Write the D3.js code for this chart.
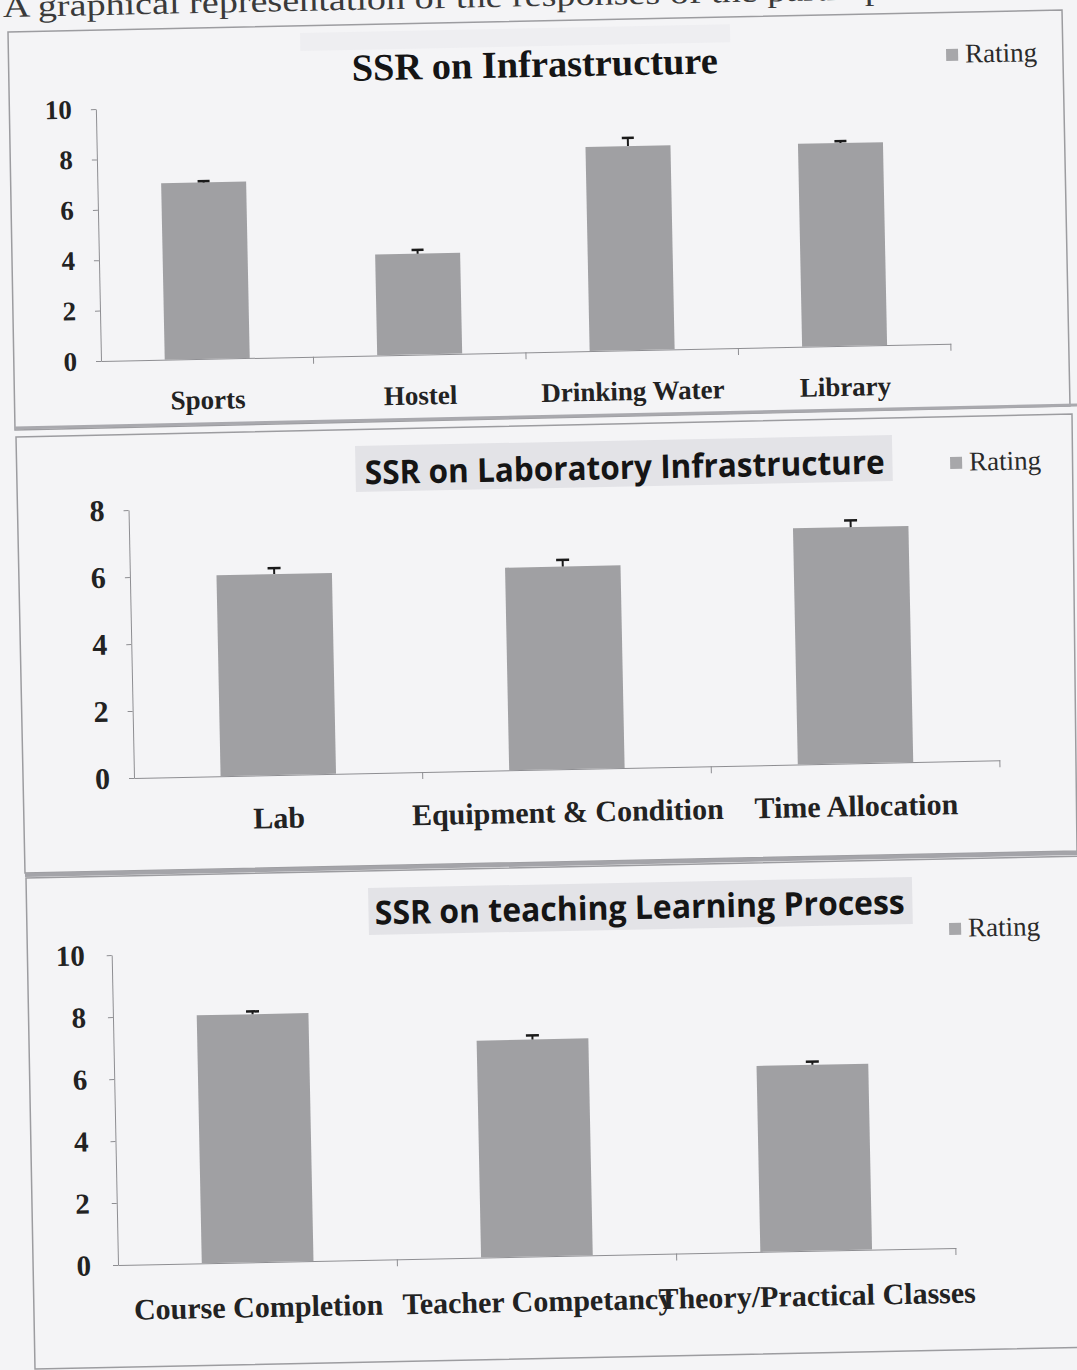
<!DOCTYPE html>
<html>
<head>
<meta charset="utf-8">
<script src="https://cdn.jsdelivr.net/npm/d3@7"></script>
<style>
  body { margin: 0; background: #f4f4f6; }
  svg { display: block; }
</style>
</head>
<body>
<div id="chart"></div>
<script>
// valores
const infraCats = ["Sports", "Hostel", "Drinking Water", "Library"];
const infraVals = [7.0, 4.0, 8.1, 8.05];
const infraErr = [0.05, 0.15, 0.33, 0.07];

const labCats = ["Lab", "Equipment & Condition", "Time Allocation"];
const labVals = [6.0, 6.05, 7.05];
const labErr = [0.18, 0.2, 0.2];

const tlpCats = ["Course Completion", "Teacher Competancy", "Theory/Practical Classes"];
const tlpVals = [8.0, 7.0, 6.0];
const tlpErr = [0.09, 0.13, 0.1];

const ticks10 = [0, 2, 4, 6, 8, 10];
const ticks8 = [0, 2, 4, 6, 8];

const width = 1077, height = 1370;
const angle = -1.17; // el escaneo esta ligeramente girado
const rad = angle * Math.PI / 180;
const serif = "'Liberation Serif', 'Times New Roman', serif";
const sans = "'Open Sans', 'Noto Sans', sans-serif";

const svg = d3.select("#chart").append("svg")
    .attr("width", width)
    .attr("height", height);

svg.append("rect").attr("width", width).attr("height", height).attr("fill", "#f4f4f6");

// convierte coordenadas de pantalla al sistema girado del panel
function toLocal(sx, sy, ox, oy) {
    const dx = sx - ox, dy = sy - oy;
    return [dx * Math.cos(rad) + dy * Math.sin(rad), -dx * Math.sin(rad) + dy * Math.cos(rad)];
}

// texto de la pagina, cortado arriba como en el escaneo
const cap = svg.append("g").attr("transform", `translate(3,17) rotate(${angle})`);
cap.append("text")
    .attr("font-family", serif)
    .attr("font-size", 31)
    .attr("fill", "#3a3a3a")
    .attr("textLength", 990)
    .attr("lengthAdjust", "spacingAndGlyphs")
    .text("A graphical representation of the responses of the participants on");

// marcos de los paneles
const frames = [
    [[8, 32], [1062, 10], [1070, 406], [15, 430]],
    [[16, 437], [1072, 414], [1077, 851], [25, 873]],
    [[26, 878], [1090, 856], [1100, 1347], [35, 1369]]
];
frames.forEach(f => {
    svg.append("polygon")
        .attr("points", f.map(p => p.join(",")).join(" "))
        .attr("fill", "none")
        .attr("stroke", "#9c9ca0")
        .attr("stroke-width", 1.5);
});
// lineas dobles entre paneles
svg.append("line").attr("x1", 15).attr("y1", 428).attr("x2", 1077).attr("y2", 405)
    .attr("stroke", "#a9a9ae").attr("stroke-width", 3);
svg.append("line").attr("x1", 25).attr("y1", 875).attr("x2", 1077).attr("y2", 853)
    .attr("stroke", "#a4a4a9").attr("stroke-width", 4);

function drawPanel(cfg) {
    const g = svg.append("g")
        .attr("transform", `translate(${cfg.ox},${cfg.oy}) rotate(${angle})`);

    // sombra gris detras del titulo (del escaneo)
    if (cfg.band) {
        const b = toLocal(cfg.band[0], cfg.band[1], cfg.ox, cfg.oy);
        g.append("rect")
            .attr("x", b[0]).attr("y", b[1])
            .attr("width", cfg.band[2]).attr("height", cfg.band[3])
            .attr("fill", cfg.bandColor);
    }

    const x = d3.scaleBand()
        .domain(cfg.cats)
        .range([0, cfg.w])
        .paddingInner(0.6)
        .paddingOuter(0.3);

    const y = d3.scaleLinear()
        .domain([0, cfg.max])
        .range([0, -cfg.h]);

    // eje y
    const yAxis = g.append("g")
        .call(d3.axisLeft(y).tickValues(cfg.ticks).tickSize(5).tickSizeOuter(0).tickPadding(cfg.pad));
    yAxis.select(".domain").attr("stroke", "#8e8e92");
    yAxis.selectAll(".tick line").attr("stroke", "#8e8e92");
    yAxis.selectAll("text")
        .attr("font-family", serif)
        .attr("font-weight", "bold")
        .attr("font-size", cfg.tickFont)
        .attr("fill", "#222");

    // eje x
    const xAxis = g.append("g")
        .call(d3.axisBottom(x).tickSize(0).tickSizeOuter(0));
    xAxis.select(".domain").attr("stroke", "#8e8e92");
    xAxis.selectAll("text")
        .attr("y", cfg.labelY)
        .attr("dy", 0)
        .attr("font-family", serif)
        .attr("font-weight", "bold")
        .attr("font-size", cfg.labelFont)
        .attr("fill", "#222");

    // marcas entre categorias
    g.selectAll(".sep")
        .data(d3.range(1, cfg.cats.length + 1))
        .enter().append("line")
        .attr("x1", i => i * x.step())
        .attr("x2", i => i * x.step())
        .attr("y1", 0)
        .attr("y2", 7)
        .attr("stroke", "#8e8e92");

    // barras
    g.selectAll(".bar")
        .data(cfg.vals)
        .enter().append("rect")
        .attr("x", (d, i) => x(cfg.cats[i]))
        .attr("y", d => y(d))
        .attr("width", x.bandwidth())
        .attr("height", d => y(0) - y(d))
        .attr("fill", "#a0a0a3");

    // barras de error (solo hacia arriba)
    cfg.vals.forEach((v, i) => {
        const cx = x(cfg.cats[i]) + x.bandwidth() / 2;
        g.append("line")
            .attr("x1", cx).attr("x2", cx)
            .attr("y1", y(v)).attr("y2", y(v + cfg.err[i]))
            .attr("stroke", "#1a1a1a").attr("stroke-width", 2);
        g.append("line")
            .attr("x1", cx - cfg.capW / 2).attr("x2", cx + cfg.capW / 2)
            .attr("y1", y(v + cfg.err[i])).attr("y2", y(v + cfg.err[i]))
            .attr("stroke", "#1a1a1a").attr("stroke-width", 2.5);
    });

    // titulo
    const t = toLocal(cfg.title.x, cfg.title.y, cfg.ox, cfg.oy);
    g.append("text")
        .attr("x", t[0]).attr("y", t[1])
        .attr("text-anchor", "middle")
        .attr("font-family", cfg.title.font)
        .attr("font-weight", "bold")
        .attr("font-size", cfg.title.size)
        .attr("fill", "#151515")
        .attr("textLength", cfg.title.len)
        .attr("lengthAdjust", "spacingAndGlyphs")
        .text(cfg.title.text);

    // leyenda
    const l = toLocal(cfg.legend.x, cfg.legend.y, cfg.ox, cfg.oy);
    g.append("rect")
        .attr("x", l[0]).attr("y", l[1])
        .attr("width", 12).attr("height", 12)
        .attr("fill", "#a7a7aa");
    g.append("text")
        .attr("x", l[0] + 19).attr("y", l[1] + 14)
        .attr("font-family", serif)
        .attr("font-size", 27)
        .attr("fill", "#2a2a2a")
        .text("Rating");
}

drawPanel({
    ox: 101, oy: 361, w: 850, h: 252, max: 10,
    cats: infraCats, vals: infraVals, err: infraErr, ticks: ticks10,
    pad: 19, tickFont: 27, labelFont: 27, labelY: 50, capW: 12,
    title: { text: "SSR on Infrastructure", x: 535, y: 77, size: 38, len: 366, font: serif },
    legend: { x: 946, y: 49 },
    band: [300, 33, 430, 18], bandColor: "#eeeef1"
});

drawPanel({
    ox: 134, oy: 778, w: 866, h: 268, max: 8,
    cats: labCats, vals: labVals, err: labErr, ticks: ticks8,
    pad: 19, tickFont: 30, labelFont: 30, labelY: 53, capW: 13,
    title: { text: "SSR on Laboratory Infrastructure", x: 625, y: 479, size: 33, len: 520, font: sans },
    legend: { x: 950, y: 457 },
    band: [355, 446, 537, 46], bandColor: "#e3e3e7"
});

drawPanel({
    ox: 118, oy: 1265, w: 838, h: 310, max: 10,
    cats: tlpCats, vals: tlpVals, err: tlpErr, ticks: ticks10,
    pad: 22, tickFont: 29, labelFont: 30, labelY: 55, capW: 13,
    title: { text: "SSR on teaching Learning Process", x: 640, y: 919, size: 33, len: 530, font: sans },
    legend: { x: 949, y: 923 },
    band: [368, 888, 544, 47], bandColor: "#e3e3e7"
});
</script>
</body>
</html>
